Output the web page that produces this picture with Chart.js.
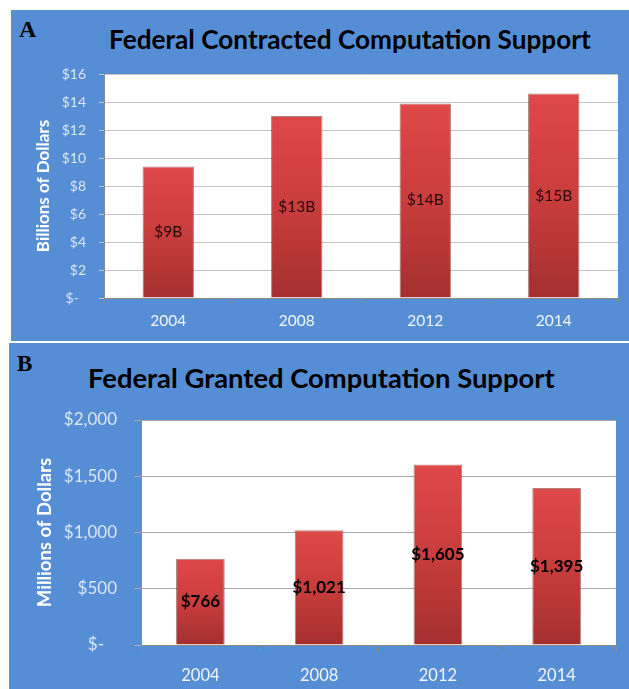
<!DOCTYPE html>
<html>
<head>
<meta charset="utf-8">
<script src="https://cdn.jsdelivr.net/npm/chart.js@4"></script>
<style>
  body { margin:0; background:#fff; width:629px; height:689px; position:relative; overflow:hidden; }
  .panel { position:absolute; background:#558ed5; }
  .tag { position:absolute; font-family:"Liberation Serif", serif; font-weight:bold; line-height:1; color:#000; }
  .title { position:absolute; font-family:Lato, sans-serif; font-weight:bold; line-height:1; color:#000; white-space:nowrap; }
  canvas { position:absolute; }
</style>
</head>
<body>
<div class="panel" style="left:11px;top:10px;width:618px;height:331px"></div>
<div class="panel" style="left:9px;top:343px;width:620px;height:346px"></div>

<div class="tag" style="left:19px;top:17px;font-size:24px">A</div>
<div class="title" style="left:109px;top:26px;font-size:26.2px">Federal Contracted Computation Support</div>
<canvas id="chartA" width="618" height="277" style="left:11px;top:64px"></canvas>

<div class="tag" style="left:17px;top:352px;font-size:23px">B</div>
<div class="title" style="left:88px;top:364px;font-size:27.4px">Federal Granted Computation Support</div>
<canvas id="chartB" width="620" height="281" style="left:9px;top:408px"></canvas>

<script>
// data
const years = ['2004', '2008', '2012', '2014'];
const contractedBillions = [9.4, 13.0, 13.9, 14.6];
const grantedMillions = [766, 1021, 1605, 1395];
const contractedTicks = ['$-  ', '$2', '$4', '$6', '$8', '$10', '$12', '$14', '$16'];
const grantedTicks = ['$-   ', '$500', '$1,000', '$1,500', '$2,000'];

const FONT = 'Lato, sans-serif';

// red bar, lighter at the top of each bar
function barFill(c) {
  const chart = c.chart;
  if (!chart.chartArea || c.type !== 'data') return '#c83c3c';
  const y = chart.scales.y;
  const top = y.getPixelForValue(c.raw);
  const bottom = y.getPixelForValue(0);
  const g = chart.ctx.createLinearGradient(0, top, 0, bottom);
  g.addColorStop(0, '#df4848');
  g.addColorStop(0.5, '#c93d3d');
  g.addColorStop(1, '#a52f2f');
  return g;
}

const whiteArea = {
  id: 'whiteArea',
  beforeDraw(chart) {
    const a = chart.chartArea;
    chart.ctx.save();
    chart.ctx.fillStyle = '#ffffff';
    chart.ctx.fillRect(a.left, a.top, a.right - a.left, a.bottom - a.top);
    chart.ctx.restore();
  }
};

// value labels in the middle of each bar
const midLabels = {
  id: 'midLabels',
  afterDatasetsDraw(chart, args, opts) {
    const ctx = chart.ctx;
    const meta = chart.getDatasetMeta(0);
    ctx.save();
    ctx.font = opts.font;
    ctx.fillStyle = opts.color;
    ctx.textAlign = 'center';
    ctx.textBaseline = 'middle';
    meta.data.forEach((bar, i) => {
      const v = chart.data.datasets[0].data[i];
      ctx.fillText(opts.format(v), bar.x, (bar.y + bar.base) / 2);
    });
    ctx.restore();
  }
};

function makeChart(id, s) {
  return new Chart(document.getElementById(id), {
    type: 'bar',
    data: {
      labels: years,
      datasets: [{
        data: s.values,
        backgroundColor: barFill,
        borderColor: 'rgba(110,25,25,0.55)',
        borderWidth: 1,
        borderSkipped: 'bottom',
        categoryPercentage: 1,
        barPercentage: s.barPct
      }]
    },
    options: {
      responsive: false,
      animation: false,
      layout: { padding: { top: s.padTop, right: s.padRight, left: 0, bottom: 0 } },
      plugins: {
        legend: { display: false },
        tooltip: { enabled: false },
        midLabels: { font: s.labelFont, color: s.labelColor, format: s.format }
      },
      scales: {
        x: {
          afterFit: sc => { sc.height = s.xHeight; },
          grid: { display: true, drawOnChartArea: false, color: '#8a8a8a', tickLength: s.xTick },
          border: { color: '#8a8a8a' },
          ticks: { color: '#f4f6fb', padding: s.xPad, font: { family: FONT, size: s.xSize } }
        },
        y: {
          min: 0, max: s.max,
          afterFit: sc => { sc.width = s.yWidth; sc.paddingTop = 0; sc.paddingBottom = 0; },
          grid: { color: s.gridColor, tickLength: s.yTick },
          border: { color: '#8a8a8a' },
          ticks: {
            stepSize: s.step,
            color: '#dce6f4',
            padding: s.yPad,
            font: { family: FONT, size: s.ySize },
            callback: (v, i) => s.tickLabels[i]
          },
          title: {
            display: true,
            text: s.yTitle,
            color: '#ffffff',
            font: { family: FONT, size: s.yTitleSize, weight: 'bold' },
            padding: { top: s.yTitlePad, bottom: 0 }
          }
        }
      }
    },
    plugins: [whiteArea, midLabels]
  });
}

makeChart('chartA', {
  values: contractedBillions, tickLabels: contractedTicks, max: 16, step: 2,
  barPct: 0.4, padTop: 10, padRight: 11, xHeight: 43, yWidth: 93,
  xTick: 5, xPad: 9, xSize: 15.5, yTick: 5, yPad: 13, ySize: 14,
  gridColor: '#c4c4c4', yTitle: 'Billions of Dollars', yTitleSize: 17, yTitlePad: 22,
  labelFont: '15.5px ' + FONT, labelColor: '#2a0808',
  format: v => '$' + Math.round(v) + 'B'
});

makeChart('chartB', {
  values: grantedMillions, tickLabels: grantedTicks, max: 2000, step: 500,
  barPct: 0.41, padTop: 12, padRight: 13, xHeight: 44, yWidth: 132,
  xTick: 7, xPad: 14, xSize: 16.5, yTick: 7, yPad: 17, ySize: 17,
  gridColor: '#a8a8a8', yTitle: 'Millions of Dollars', yTitleSize: 18.5, yTitlePad: 25,
  labelFont: 'bold 17px ' + FONT, labelColor: '#000000',
  format: v => '$' + v.toLocaleString('en-US')
});
</script>
</body>
</html>
